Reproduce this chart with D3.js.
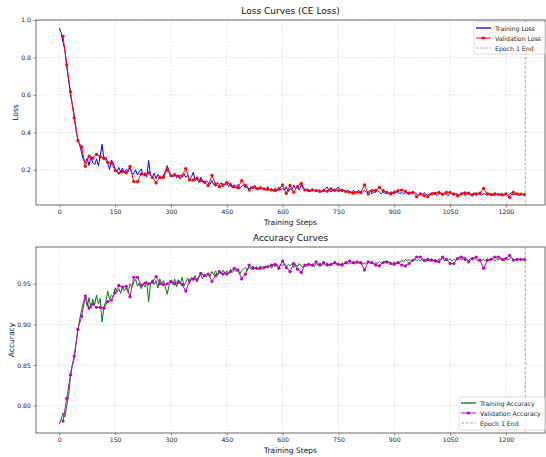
<!DOCTYPE html>
<html>
<head>
<meta charset="utf-8">
<script src="https://cdn.jsdelivr.net/npm/d3@7"></script>
<style>
  body { margin: 0; background: #fff; }
  svg { display: block; font-family: "DejaVu Sans", sans-serif; }
</style>
</head>
<body>
<div id="chart"></div>
<script>
// steps between logged points
var TRAIN_EVERY = 5;
var VAL_EVERY = 10;
var EPOCH_END = 1252;

var xTicks = [0, 150, 300, 450, 600, 750, 900, 1050, 1200];
var lossTicks = [0.2, 0.4, 0.6, 0.8, 1.0];
var accTicks = [0.80, 0.85, 0.90, 0.95];

// training loss, one value every 5 steps (0 .. 1250)
var trainLoss = [
  .958, .932, .880, .842, .752, .680, .605, .548, .495, .410,
  .362, .330, .290, .252, .238, .262, .222, .270, .238, .228,
  .258, .222, .272, .336, .252, .268, .238, .202, .252, .236,
  .205, .192, .212, .188, .210, .182, .202, .190, .212, .180,
  .180, .200, .172, .192, .205, .172, .185, .162, .250, .172,
  .162, .182, .152, .175, .160, .150, .172, .190, .222, .192,
  .172, .160, .182, .158, .172, .150, .170, .180, .160, .170,
  .150, .162, .187, .142, .152, .132, .160, .140, .128, .142,
  .130, .122, .142, .120, .112, .132, .120, .130, .110, .122,
  .125, .110, .130, .102, .120, .110, .122, .100, .112, .120,
  .102, .112, .092, .110, .100, .118, .100, .092, .110, .100,
  .102, .090, .110, .092, .100, .085, .102, .090, .108, .092,
  .102, .090, .110, .082, .100, .090, .118, .100, .108, .092,
  .122, .100, .090, .100, .092, .082, .100, .090, .085, .092,
  .092, .082, .090, .100, .108, .090, .082, .092, .082, .100,
  .108, .090, .082, .092, .082, .090, .084, .080, .090, .082,
  .082, .090, .074, .082, .090, .080, .082, .090, .072, .082,
  .080, .090, .080, .072, .082, .074, .080, .072, .082, .078,
  .088, .080, .082, .072, .080, .070, .080, .072, .070, .078,
  .072, .080, .070, .062, .072, .068, .078, .070, .064, .070,
  .072, .080, .070, .062, .072, .078, .064, .072, .070, .062,
  .080, .070, .062, .072, .070, .064, .072, .078, .062, .070,
  .072, .064, .070, .078, .062, .072, .070, .064, .072, .070,
  .064, .072, .070, .062, .078, .070, .064, .072, .070, .064,
  .072, .062, .070, .078, .064, .070, .072, .062, .070, .068,
  .065
];

// validation loss, one value every 10 steps (10 .. 1250)
var valLoss = [
  .913, .761, .616, .477, .356, .322, .219, .273, .262, .282,
  .270, .262, .240, .236, .196, .183, .190, .184, .219, .137,
  .137, .178, .173, .184, .160, .130, .160, .160, .200, .169,
  .173, .166, .168, .207, .146, .146, .155, .142, .133, .115,
  .171, .124, .110, .119, .133, .119, .110, .103, .142, .117,
  .092, .106, .100, .103, .098, .096, .092, .089, .096, .119,
  .074, .117, .080, .110, .128, .092, .089, .092, .089, .084,
  .089, .086, .098, .092, .089, .092, .084, .080, .075, .080,
  .078, .119, .071, .089, .090, .106, .089, .079, .071, .077,
  .089, .092, .084, .075, .080, .056, .071, .062, .057, .071,
  .074, .079, .070, .080, .079, .071, .061, .071, .077, .075,
  .066, .071, .075, .101, .071, .068, .070, .068, .066, .071,
  .053, .080, .071, .070, .067
];

// training accuracy, one value every 5 steps (0 .. 1250)
var trainAcc = [
  .777, .783, .791, .786, .800, .812, .835, .850, .858, .876,
  .893, .907, .918, .928, .934, .922, .933, .920, .931, .924,
  .936, .925, .932, .903, .922, .928, .941, .931, .936, .934,
  .945, .940, .944, .938, .947, .941, .946, .939, .950, .946,
  .952, .956, .947, .951, .944, .950, .946, .953, .928, .950,
  .955, .949, .954, .945, .956, .950, .954, .946, .937, .948,
  .953, .949, .956, .946, .955, .950, .958, .947, .952, .957,
  .950, .958, .954, .960, .952, .958, .961, .956, .962, .958,
  .963, .959, .965, .961, .966, .960, .964, .962, .967, .963,
  .966, .962, .968, .964, .967, .965, .969, .962, .966, .968,
  .970, .966, .971, .968, .972, .969, .971, .967, .972, .970,
  .968, .972, .970, .973, .969, .973, .971, .974, .970, .974,
  .972, .975, .971, .974, .972, .975, .970, .974, .971, .975,
  .972, .970, .974, .971, .975, .972, .974, .971, .975, .973,
  .976, .972, .975, .973, .976, .972, .975, .974, .976, .973,
  .975, .973, .976, .974, .977, .974, .976, .975, .977, .974,
  .976, .975, .977, .974, .976, .975, .977, .975, .977, .974,
  .976, .975, .977, .975, .976, .978, .975, .977, .976, .974,
  .977, .975, .978, .976, .979, .977, .980, .978, .980, .977,
  .979, .981, .978, .980, .978, .981, .979, .977, .980, .978,
  .981, .979, .980, .978, .981, .979, .982, .978, .980, .979,
  .981, .978, .980, .979, .981, .983, .979, .981, .978, .980,
  .979, .981, .979, .982, .980, .978, .981, .979, .980, .978,
  .981, .979, .982, .980, .978, .981, .979, .982, .980, .978,
  .981, .979, .981, .983, .979, .980, .978, .981, .979, .980,
  .980
];

// validation accuracy, one value every 10 steps (10 .. 1250)
var valAcc = [
  .781, .809, .838, .861, .894, .910, .935, .920, .925, .921,
  .921, .920, .928, .930, .939, .948, .946, .947, .934, .958,
  .958, .948, .951, .950, .952, .959, .950, .949, .950, .953,
  .950, .952, .949, .941, .954, .956, .955, .963, .960, .962,
  .953, .960, .965, .962, .962, .965, .969, .967, .956, .962,
  .973, .969, .969, .969, .970, .971, .973, .974, .969, .978,
  .970, .965, .975, .968, .964, .973, .974, .973, .977, .973,
  .976, .973, .974, .976, .974, .973, .976, .978, .976, .977,
  .976, .967, .977, .976, .973, .972, .976, .977, .975, .974,
  .976, .973, .972, .975, .979, .983, .983, .979, .980, .979,
  .978, .977, .983, .980, .975, .975, .981, .983, .981, .977,
  .981, .983, .979, .969, .979, .980, .983, .983, .980, .981,
  .985, .979, .980, .980, .980
];

var W = 546, H = 457;
var EPOCH_COLOR = '#7cc67c';

var svg = d3.select('#chart').append('svg')
    .attr('width', W)
    .attr('height', H);

var panels = [
  {
    box: {left: 36, right: 545, top: 20, bottom: 205},
    ydom: [0.012, 1.0], yticks: lossTicks, yfmt: d3.format('.1f'),
    title: 'Loss Curves (CE Loss)', ylabel: 'Loss', ylabelX: 15,
    train: trainLoss, val: valLoss,
    trainColor: '#0000ff', valColor: '#ff0000',
    names: ['Training Loss', 'Validation Loss', 'Epoch 1 End'],
    legend: {x: 474, y: 22, w: 71, h: 32, line: 476}
  },
  {
    box: {left: 36, right: 545, top: 247, bottom: 433},
    ydom: [0.7663, 0.9953], yticks: accTicks, yfmt: d3.format('.2f'),
    title: 'Accuracy Curves', ylabel: 'Accuracy', ylabelX: 11,
    train: trainAcc, val: valAcc,
    trainColor: '#008000', valColor: '#bf00bf',
    names: ['Training Accuracy', 'Validation Accuracy', 'Epoch 1 End'],
    legend: {x: 459, y: 397, w: 86, h: 33, line: 461}
  }
];

panels.forEach(function(p) {
  var b = p.box;
  var x = d3.scaleLinear().domain([-62.6, 1305]).range([b.left, b.right]);
  var y = d3.scaleLinear().domain(p.ydom).range([b.bottom, b.top]);
  var g = svg.append('g');

  // grid
  g.append('g').selectAll('line').data(xTicks).join('line')
    .attr('x1', d => x(d)).attr('x2', d => x(d))
    .attr('y1', b.top).attr('y2', b.bottom)
    .attr('stroke', '#b0b0b0').attr('stroke-width', 0.5)
    .attr('stroke-dasharray', '2,1.5').attr('opacity', 0.7);
  g.append('g').selectAll('line').data(p.yticks).join('line')
    .attr('x1', b.left).attr('x2', b.right)
    .attr('y1', d => y(d)).attr('y2', d => y(d))
    .attr('stroke', '#b0b0b0').attr('stroke-width', 0.5)
    .attr('stroke-dasharray', '2,1.5').attr('opacity', 0.7);

  // axes
  var xa = g.append('g')
      .attr('transform', 'translate(0,' + b.bottom + ')')
      .call(d3.axisBottom(x).tickValues(xTicks).tickFormat(d3.format('d'))
            .tickSize(2.5).tickPadding(2.5).tickSizeOuter(0));
  var ya = g.append('g')
      .attr('transform', 'translate(' + b.left + ',0)')
      .call(d3.axisLeft(y).tickValues(p.yticks).tickFormat(p.yfmt)
            .tickSize(2.5).tickPadding(2.5).tickSizeOuter(0));
  [xa, ya].forEach(function(a) {
    a.select('.domain').remove();
    a.selectAll('line').attr('stroke', '#333').attr('stroke-width', 0.6);
    a.selectAll('text').attr('font-size', 6.2).attr('fill', '#222')
      .attr('font-family', '"DejaVu Sans", sans-serif');
  });

  var clipId = 'clip' + b.top;
  svg.append('clipPath').attr('id', clipId).append('rect')
    .attr('x', b.left).attr('y', b.top)
    .attr('width', b.right - b.left).attr('height', b.bottom - b.top);
  var plot = g.append('g').attr('clip-path', 'url(#' + clipId + ')');

  // training line
  plot.append('path')
    .datum(p.train)
    .attr('fill', 'none')
    .attr('stroke', p.trainColor)
    .attr('stroke-width', 1)
    .attr('stroke-linejoin', 'round')
    .attr('d', d3.line()
          .x((d, i) => x(i * TRAIN_EVERY))
          .y(d => y(d)));

  // validation line + markers
  plot.append('path')
    .datum(p.val)
    .attr('fill', 'none')
    .attr('stroke', p.valColor)
    .attr('stroke-width', 1)
    .attr('d', d3.line()
          .x((d, i) => x((i + 1) * VAL_EVERY))
          .y(d => y(d)));
  plot.append('g').selectAll('circle').data(p.val).join('circle')
    .attr('cx', (d, i) => x((i + 1) * VAL_EVERY))
    .attr('cy', d => y(d))
    .attr('r', 1.6)
    .attr('fill', p.valColor);

  // epoch marker
  plot.append('line')
    .attr('x1', x(EPOCH_END)).attr('x2', x(EPOCH_END))
    .attr('y1', b.top).attr('y2', b.bottom)
    .attr('stroke', EPOCH_COLOR)
    .attr('stroke-width', 1).attr('stroke-dasharray', '3,1.6');

  // frame
  g.append('rect')
    .attr('x', b.left).attr('y', b.top)
    .attr('width', b.right - b.left).attr('height', b.bottom - b.top)
    .attr('fill', 'none').attr('stroke', '#444').attr('stroke-width', 0.8);

  // texts
  g.append('text')
    .attr('x', (b.left + b.right) / 2).attr('y', b.top - 6.5)
    .attr('text-anchor', 'middle').attr('font-size', 9).attr('fill', '#111')
    .text(p.title);
  g.append('text')
    .attr('x', (b.left + b.right) / 2).attr('y', b.bottom + 19.5)
    .attr('text-anchor', 'middle').attr('font-size', 7.5).attr('fill', '#111')
    .text('Training Steps');
  g.append('text')
    .attr('transform', 'translate(' + p.ylabelX + ',' + ((b.top + b.bottom) / 2) + ') rotate(-90)')
    .attr('text-anchor', 'middle').attr('dominant-baseline', 'central')
    .attr('font-size', 7.5).attr('fill', '#111')
    .text(p.ylabel);

  // legend
  var L = p.legend;
  var lg = g.append('g');
  lg.append('rect')
    .attr('x', L.x).attr('y', L.y).attr('width', L.w).attr('height', L.h)
    .attr('rx', 1.5).attr('fill', '#fff').attr('fill-opacity', 0.8)
    .attr('stroke', '#d0d0d0').attr('stroke-width', 0.7);
  var styles = [
    {c: p.trainColor, dash: null, mk: false},
    {c: p.valColor, dash: null, mk: true},
    {c: EPOCH_COLOR, dash: '3,1.6', mk: false}
  ];
  p.names.forEach(function(name, i) {
    var ry = L.y + 6 + i * 10;
    var s = styles[i];
    lg.append('line')
      .attr('x1', L.line).attr('x2', L.line + 15)
      .attr('y1', ry).attr('y2', ry)
      .attr('stroke', s.c)
      .attr('stroke-width', i == 0 ? 1.3 : 1)
      .attr('stroke-dasharray', s.dash);
    if (s.mk) {
      lg.append('circle').attr('cx', L.line + 7.5).attr('cy', ry)
        .attr('r', 1.6).attr('fill', s.c);
    }
    lg.append('text')
      .attr('x', L.line + 19).attr('y', ry)
      .attr('dominant-baseline', 'central')
      .attr('font-size', 6.2).attr('fill', '#222')
      .text(name);
  });
});
</script>
</body>
</html>
